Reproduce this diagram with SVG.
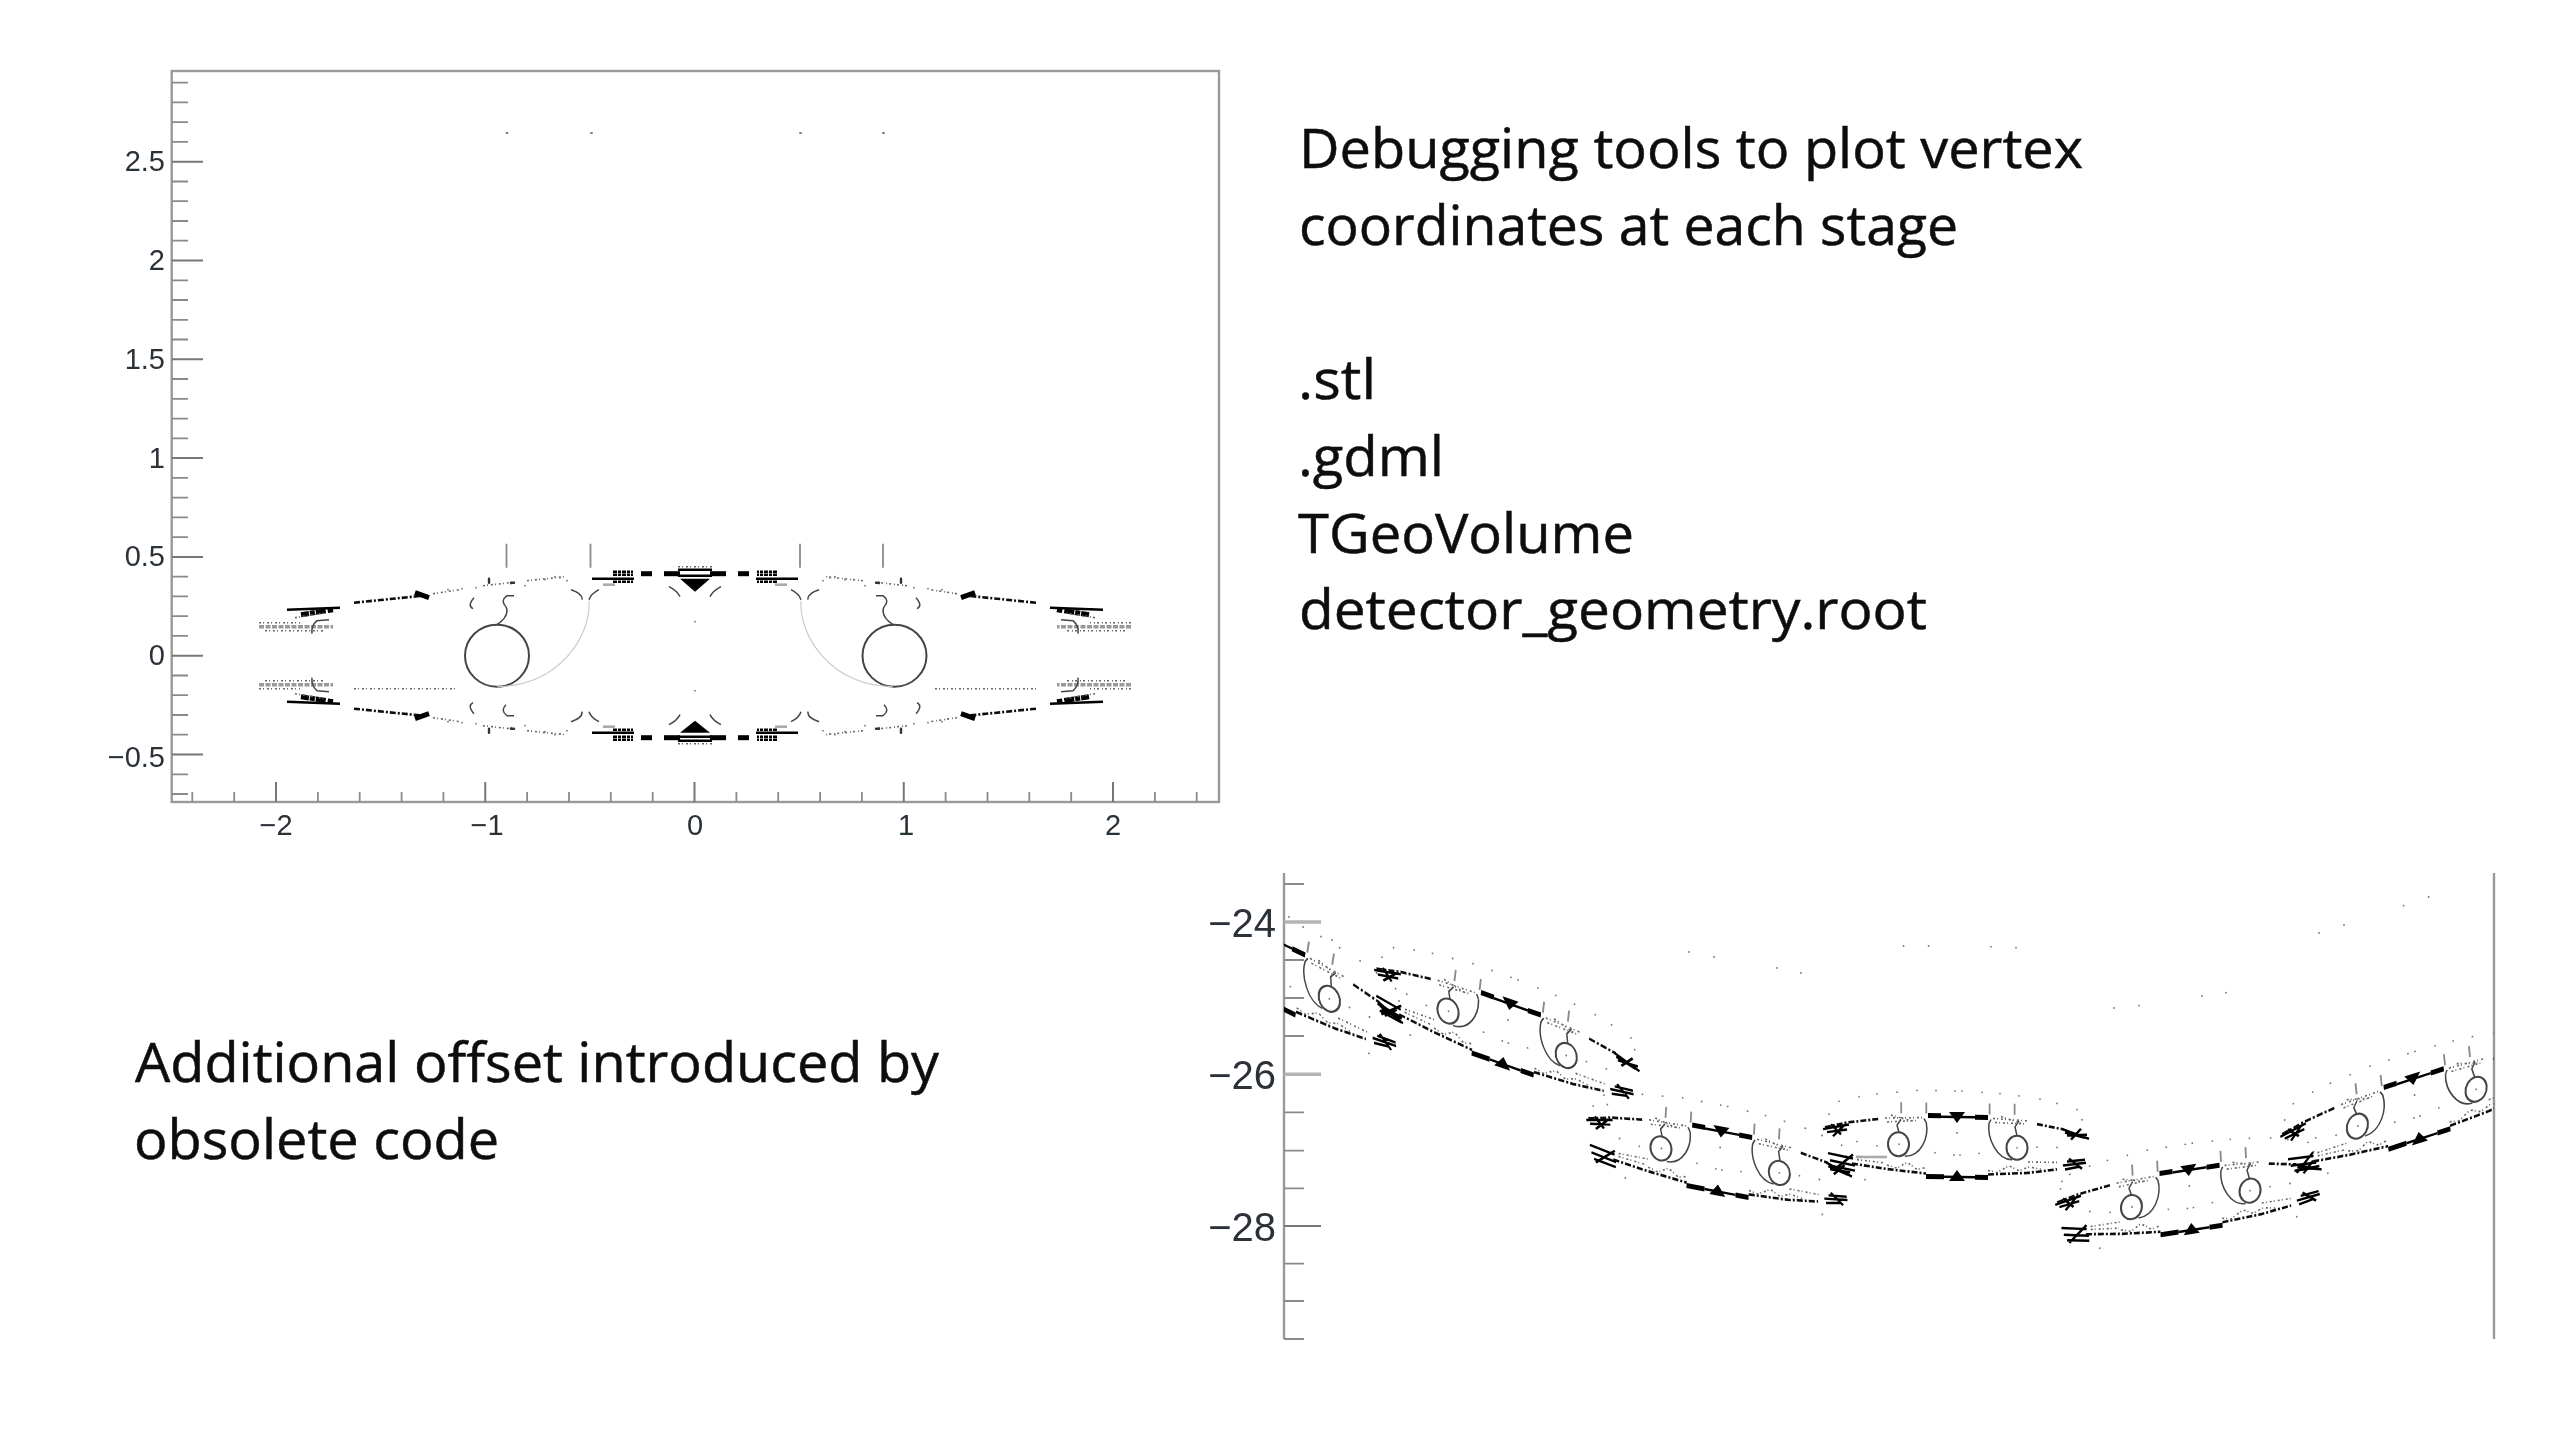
<svg xmlns="http://www.w3.org/2000/svg" xmlns:xlink="http://www.w3.org/1999/xlink" width="2560" height="1440" viewBox="0 0 2560 1440">
<style>
.t{font-family:"Open Sans","Noto Sans",sans-serif;font-size:55px;fill:#0c0c0c;stroke:#0c0c0c;stroke-width:.5}
.a{font-family:"Liberation Sans",Arial,sans-serif;fill:#2a3038}
.a1{font-size:29px}.a2{font-size:40px}
path,ellipse,circle,line{fill:none}
.ax{stroke:#999;stroke-width:2.4}
.mn{stroke:#8a8a8a;stroke-width:1.8}
.mj{stroke:#777;stroke-width:2}
.mjl{stroke:#b4b4b4;stroke-width:3.5}
.ring{stroke:#444;stroke-width:2}
.thin{stroke:#444;stroke-width:1.5}
.faint{stroke:#c8c8c8;stroke-width:1.1}
.k{stroke:#000;stroke-width:2.4}
.kb{stroke:#000;stroke-width:5}
.kd{stroke:#111;stroke-width:2.6;stroke-dasharray:6 2 2 2}
.gd{stroke:#666;stroke-width:1.6;stroke-dasharray:2 2 1 3}
.gh{stroke:#999;stroke-width:3.5;stroke-dasharray:5 1.500}
.gl{stroke:#aaa;stroke-width:2.6}
.dot{stroke:#777;stroke-width:1.8;stroke-linecap:round}
.dk{stroke:#333;stroke-width:2.4;stroke-linecap:round}
.fill{fill:#000;stroke:none}
</style>
<defs>
<filter id="soft" filterUnits="userSpaceOnUse" x="0" y="0" width="2560" height="1440"><feGaussianBlur stdDeviation="0.7"/></filter>
<filter id="softT" filterUnits="userSpaceOnUse" x="0" y="0" width="2560" height="1440"><feGaussianBlur stdDeviation="0.5"/></filter>
<clipPath id="clipL"><rect x="1284" y="860" width="400" height="400"/></clipPath>
<clipPath id="clipR"><rect x="2200" y="860" width="294" height="400"/></clipPath>
<g id="quad">
<path class="gh" d="M-436 -29H-362"/>
<path class="gd" d="M-436 -33H-395M-430 -25H-370"/>
<path class="thin" d="M-366 -36L-378 -35Q-384 -30 -383 -22"/>
<path class="k" d="M-408 -46L-355 -48"/>
<path class="kb" stroke-dasharray="8 1 5 1 10 2" d="M-394 -41L-362 -46"/>
<path class="gd" d="M-400 -38L-370 -43"/>
<path class="kd" d="M-341 -53L-272 -60"/>
<path class="kb" stroke-width="3" d="M-280 -63L-266 -58"/>
<path class="gd" d="M-262 -62L-235 -66M-212 -70L-185 -73M-168 -75L-130 -79"/>
<path class="dot" d="M-247 -66h0M-233 -67h0M-219 -68h0M-184 -72h0M-170 -70h0M-140 -79h0M-135 -78h0M-150 -76h0M-128 -75h0"/>
<path class="dk" d="M-206 -77v4M-184 -73h3"/>
<path class="thin" d="M-221 -58Q-228 -50 -222 -47M-181 -60L-188 -60Q-195 -55 -189 -49M-124 -66Q-112 -62 -113 -56M-96 -66Q-104 -62 -106 -56M-26 -69Q-18 -65 -15 -59"/>
<path class="k" d="M-103 -77H-61"/>
<path class="k" stroke-dasharray="4 1 3 1" d="M-82 -84H-62M-82 -81H-62M-82 -74H-62"/>
<path class="gl" d="M-92 -71H-80"/>
<path class="kb" d="M-54 -82H-43"/>
<path class="kb" stroke-width="2.500" d="M-31 -82H-15"/>
</g>
<g id="big">
<use xlink:href="#quad"/>
<use xlink:href="#quad" transform="scale(-1,1)"/>
<use xlink:href="#quad" transform="scale(1,-1)"/>
<use xlink:href="#quad" transform="scale(-1,-1)"/>
<path class="fill" d="M-15 -77H15L0 -64Z"/>
<path class="fill" d="M-15 77H15L0 65Z"/>
<path class="k" d="M-17 -86H17M-17 -80H17M-17 81H17M-17 85H17"/>
<path class="gd" d="M-17 -89H17M-17 88H17"/>
<ellipse class="ring" cx="-198" cy="0" rx="32" ry="31"/>
<ellipse class="ring" cx="199.500" cy="0" rx="32" ry="31"/>
<path class="thin" d="M-189 -49Q-185 -40 -198 -31M189 -49Q185 -40 198 -31"/>
<path class="faint" d="M-106 -55C-104 -20 -135 30 -198 31M106 -55C104 -20 135 30 198 31"/>
<path class="mn" stroke-width="1.200" d="M-188.500 -112V-88M-104.500 -112V-88M105 -112V-88M188 -112V-88"/>
<path class="gd" d="M-341 33H-240M240 33H341"/>
<path class="dot" d="M0 -34h0M0 35h0"/>
</g>
<g id="small">
<ellipse class="ring" cx="-58.500" cy="-1" rx="10.500" ry="12"/>
<ellipse class="ring" cx="60" cy="1" rx="10.500" ry="12"/>
<path class="mn" stroke-width="1.400" d="M-55.800 -43V-32M-30.700 -43V-32M32.600 -43V-32M57.600 -43V-32"/>
<path class="thin" d="M-30.700 -23C-28 -8 -36 11 -52 11M32 -23C30 -8 40 13 55 13M-58 -13L-60 -20L-56 -26M60 -11L58 -20L62 -26M-30.700 -23L-33 -27M32 -23L34 -27"/>
<path class="kd" d="M-132 -17L-110 -22L-78 -26M80 -23L107 -18"/>
<path class="gd" d="M-72 -27L-32 -28M-70 -23L-40 -25M-66 -30L-44 -24M36 -28L72 -26M38 -24L70 -23M44 -30L66 -23"/>
<path class="kb" d="M-29 -30H-16M18 -29H31M-31 31H-13M18 31H31"/>
<path class="k" d="M-16 -29H18M-13 31H18"/>
<path class="fill" d="M-8 -34H8L0 -23Z"/>
<path class="fill" d="M-8 35H8L0 24Z"/>
<path class="k" d="M-134 -15L-108 -20M-126 -20L-116 -10M-130 -12L-110 -15M-124 -8L-112 -20M106 -18L132 -9M110 -12L130 -13M114 -8L124 -19M108 -15L128 -10M-129 9L-104 14M-127 16L-102 21M-122 25L-104 10M-124 22L-102 26M106 18L129 15M112 11L125 21M110 14L128 12M108 22L122 19"/>
<path class="kd" d="M-105 19L-70 24L-31 28M31 28L70 26L100 22"/>
<path class="gd" d="M71 15H103M-100 12H-69M-100 15L-72 18"/>
<path class="gd" d="M-70 20L-60 23L-50 17L-40 24L-31 22M31 24L40 26L52 19L62 24L72 20L84 22"/>
<path class="dot" d="M-118 -43h0M-98 -48h0M-80 -51h0M-60 -53h0M-40 -55h0M-21 -55h0M-2 -55h0M5 -55h0M25 -54h0M43 -53h0M62 -51h0M83 -48h0M100 -44h0M120 -38h0M0 -13h0M-100 -3h0M-80 1h0M-22 7h0M-3 9h0M3 9h0M22 7h0M80 0h0M100 0h0M-58 -1h0M60 1h0M-128 -30h0M125 -28h0M-92 35h0M105 34h0"/>
</g>
</defs>

<g id="plot1" filter="url(#soft)">
<rect class="ax" x="171.700" y="71" width="1047.300" height="731" fill="none"/>
<path class="mn" d="M172 82.700h16M172 102.400h16M172 122.200h16M172 141.900h16M172 181.500h16M172 201.200h16M172 221h16M172 240.700h16M172 280.300h16M172 300h16M172 319.800h16M172 339.500h16M172 379h16M172 398.800h16M172 418.600h16M172 438.300h16M172 477.900h16M172 497.600h16M172 517.400h16M172 537.100h16M172 576.700h16M172 596.400h16M172 616.200h16M172 635.900h16M172 675.500h16M172 695.200h16M172 715h16M172 734.700h16M172 774.300h16M172 794h16"/>
<path class="mj" d="M172 161.700h31M172 260.500h31M172 359.300h31M172 458.100h31M172 556.900h31M172 655.700h31M172 754.500h31"/>
<path class="mn" d="M192.300 802v-10M234.200 802v-10M317.900 802v-10M359.700 802v-10M401.600 802v-10M443.400 802v-10M527.100 802v-10M569 802v-10M610.800 802v-10M652.700 802v-10M736.400 802v-10M778.200 802v-10M820.100 802v-10M861.900 802v-10M945.600 802v-10M987.500 802v-10M1029.300 802v-10M1071.200 802v-10M1154.900 802v-10M1196.700 802v-10"/>
<path class="mj" d="M276 802v-20M485.250 802v-20M694.500 802v-20M903.750 802v-20M1113 802v-20"/>
<use xlink:href="#big" transform="translate(695,655.700)"/>
<path class="dot" stroke-width="1.200" d="M506.500 133h1M591 133h1M800 133h1M883 133h1"/>
<g class="a a1">
<text x="165" y="171" text-anchor="end">2.5</text>
<text x="165" y="270" text-anchor="end">2</text>
<text x="165" y="369" text-anchor="end">1.5</text>
<text x="165" y="468" text-anchor="end">1</text>
<text x="165" y="566" text-anchor="end">0.5</text>
<text x="165" y="665" text-anchor="end">0</text>
<text x="165" y="767" text-anchor="end">−0.5</text>
<text x="276" y="835" text-anchor="middle">−2</text>
<text x="487" y="835" text-anchor="middle">−1</text>
<text x="695" y="835" text-anchor="middle">0</text>
<text x="906" y="835" text-anchor="middle">1</text>
<text x="1113" y="835" text-anchor="middle">2</text>
</g>
</g>

<g id="plot2" filter="url(#soft)">
<path class="ax" d="M1284 873V1339M2494 873V1339"/>
<path class="mn" d="M1284 884h20M1284 960h20M1284 998h20M1284 1036h20M1284 1112.300h20M1284 1150.700h20M1284 1188.300h20M1284 1263.700h20M1284 1301h20M1284 1339h20"/>
<path class="mjl" d="M1284 922h37M1284 1074.300h37"/>
<path class="mj" d="M1284 1226h37"/>
<g clip-path="url(#clipL)"><use xlink:href="#small" transform="matrix(1,0.48,-0.16,1,1269.500,969)"/></g>
<use xlink:href="#small" transform="matrix(1,0.358,-0.12,1,1506.400,1033)"/>
<use xlink:href="#small" transform="matrix(1,0.19,-0.06,1,1719.400,1160.500)"/>
<use xlink:href="#small" transform="matrix(1,0.014,0,1,1957,1146)"/>
<path class="gl" stroke-width="3" d="M1856 1157H1887"/>
<use xlink:href="#small" transform="matrix(1,-0.155,0.05,1,2190,1199)"/>
<g clip-path="url(#clipR)"><use xlink:href="#small" transform="matrix(1,-0.328,0.11,1,2416,1108)"/></g>
<path class="dot" stroke-width="1.300" d="M1689 952h0M1714 957h0M1777 968h0M1801 973h0M1903.600 946h0M1928.600 946h0M1991 946.700h0M2016 947.700h0M2114 1008h0M2139 1005.700h0M2202 996h0M2226 992.700h0M2319 933h0M2344 925h0M2403.600 905.700h0M2428.600 897h0M1289 917h0M1332 940h0"/>
<g class="a a2">
<text x="1276" y="937" text-anchor="end">−24</text>
<text x="1276" y="1089" text-anchor="end">−26</text>
<text x="1276" y="1241" text-anchor="end">−28</text>
</g>
</g>

<g id="notes" filter="url(#softT)">
<text class="t" x="1299" y="168" textLength="784" lengthAdjust="spacingAndGlyphs">Debugging tools to plot vertex</text>
<text class="t" x="1299" y="245" textLength="659" lengthAdjust="spacingAndGlyphs">coordinates at each stage</text>
<text class="t" x="1298" y="399" textLength="78" lengthAdjust="spacingAndGlyphs">.stl</text>
<text class="t" x="1298" y="476" textLength="146" lengthAdjust="spacingAndGlyphs">.gdml</text>
<text class="t" x="1298" y="553" textLength="336" lengthAdjust="spacingAndGlyphs">TGeoVolume</text>
<text class="t" x="1299" y="629" textLength="628" lengthAdjust="spacingAndGlyphs">detector_geometry.root</text>
<text class="t" x="135" y="1082" textLength="804" lengthAdjust="spacingAndGlyphs">Additional offset introduced by</text>
<text class="t" x="134" y="1159" textLength="365" lengthAdjust="spacingAndGlyphs">obsolete code</text>
</g>
</svg>
